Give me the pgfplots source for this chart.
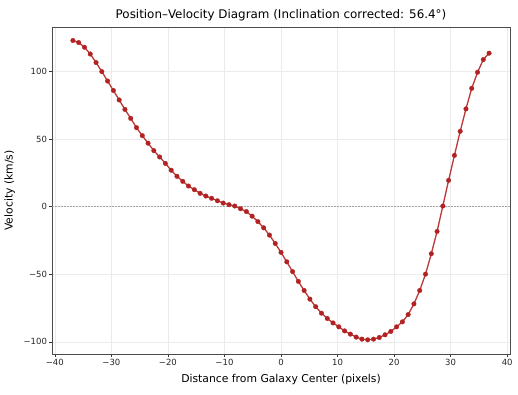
\documentclass[border=0pt]{standalone}
\usepackage{pgfplots}
\pgfplotsset{compat=1.18}
\usepackage{fontspec}
\setmainfont{DejaVu Sans}
\definecolor{fb}{RGB}{178,34,34}
\begin{document}
\begin{tikzpicture}
\begin{axis}[
  scale only axis,
  width=458pt, height=327pt,
  xmin=-40.5, xmax=40.5, ymin=-109, ymax=133,
  xtick={-40,-30,-20,-10,0,10,20,30,40},
  xticklabels={−40,−30,−20,−10,0,10,20,30,40},
  ytick={-100,-50,0,50,100},
  yticklabels={−100,−50,0,50,100},
  tick align=outside, tick pos=left,
  major tick length=2.5pt,
  tick style={black!80, line width=0.5pt},
  axis line style={black!70, line width=0.8pt},
  grid=major,
  grid style={black!8, line width=0.5pt},
  ticklabel style={font=\fontsize{8.5}{10}\selectfont, text=black!85},
  xticklabel style={yshift=1pt},
  yticklabel style={xshift=1pt},
  xlabel={Distance from Galaxy Center (pixels)},
  ylabel={Velocity (km/s)},
  label style={font=\fontsize{10.8}{12}\selectfont},
  title={Position–Velocity Diagram (Inclination corrected: 56.4°)},
  title style={font=\fontsize{11.9}{13}\selectfont, yshift=-4pt},
  xlabel style={yshift=-2pt},
  ylabel style={yshift=2pt},
]
\addplot[black!35, line width=0.6pt, dash pattern=on 1.8pt off 1.2pt, forget plot] coordinates {(-40.5,0) (40.5,0)};
\addplot[fb!90, line width=1.3pt, mark=*, mark size=2.3pt, mark options={fill=fb, draw=fb, line width=0.3pt}] coordinates {
(-36.80,123) (-35.78,121.5) (-34.76,118) (-33.73,113) (-32.71,106.7) (-31.69,100) (-30.67,93) (-29.64,86)
(-28.62,79) (-27.60,72) (-26.58,65.4) (-25.56,58.5) (-24.53,52.6) (-23.51,47) (-22.49,41.5) (-21.47,36.8)
(-20.44,32) (-19.42,27) (-18.40,22.5) (-17.38,18.8) (-16.36,15.3) (-15.33,12.6) (-14.31,9.9) (-13.29,7.9)
(-12.27,6.2) (-11.24,4.4) (-10.22,2.7) (-9.20,1.5) (-8.18,0.5) (-7.16,-1.5) (-6.13,-3.6) (-5.11,-7)
(-4.09,-11) (-3.07,-15.6) (-2.04,-21) (-1.02,-27.2) (0.00,-33.8) (1.02,-40.8) (2.04,-48) (3.07,-55.3)
(4.09,-62) (5.11,-68.4) (6.13,-74) (7.16,-78.8) (8.18,-82.7) (9.20,-86) (10.22,-88.9) (11.24,-91.9)
(12.27,-94.3) (13.29,-96.5) (14.31,-98) (15.33,-98.5) (16.36,-98) (17.38,-96.8) (18.40,-94.8) (19.42,-92.3)
(20.44,-88.9) (21.47,-85.2) (22.49,-79.8) (23.51,-71.9) (24.53,-62) (25.56,-49.9) (26.58,-34.8) (27.60,-18.3)
(28.62,0.5) (29.64,19.5) (30.67,38) (31.69,55.8) (32.71,72.4) (33.73,87.6) (34.76,99.5) (35.78,108.9)
(36.80,113.6)
};
\end{axis}
\pgfresetboundingbox
\path ([shift={(-52pt,-41pt)}]current axis.south west) rectangle ([shift={(8pt,27pt)}]current axis.north east);
\end{tikzpicture}
\end{document}
